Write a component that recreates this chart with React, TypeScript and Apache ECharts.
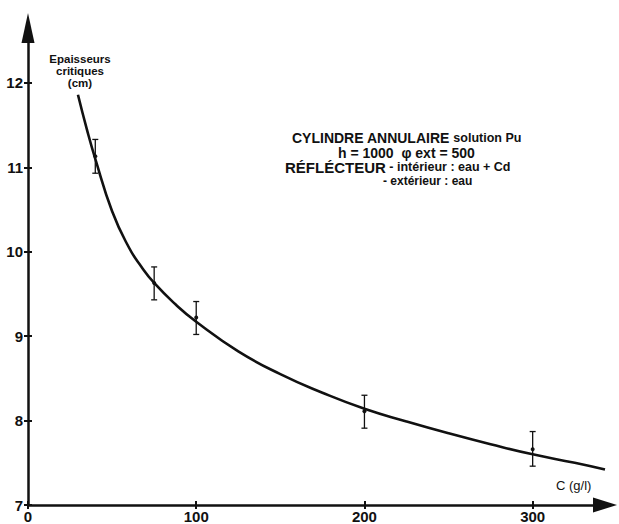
import React, { useEffect, useRef } from "react";
import * as echarts from "echarts";

// ---- data ----
const xTicks = [0, 100, 200, 300];
const yTicks = [7, 8, 9, 10, 11, 12];

// measured points (C in g/l, critical thickness in cm) with error bars
const pointC = [40, 75, 100, 200, 300];
const pointValue = [11.13, 9.63, 9.22, 8.11, 7.66];
const pointLow = [10.93, 9.43, 9.02, 7.91, 7.46];
const pointHigh = [11.33, 9.82, 9.41, 8.3, 7.87];

// fitted curve
const curveC = [29.7, 35, 40, 50, 60, 67.5, 75, 87.5, 100, 125, 150, 175, 200, 225, 250, 275, 300, 325, 343];
const curveValue = [11.86, 11.45, 11.1, 10.48, 10.05, 9.82, 9.63, 9.38, 9.17, 8.82, 8.55, 8.33, 8.14, 7.99, 7.85, 7.72, 7.6, 7.5, 7.42];

const titleLines = [
  ["CYLINDRE ANNULAIRE", " solution Pu"],
  ["h = 1000  \u03c6 ext = 500"],
  ["R\u00c9FL\u00c9CTEUR", " - int\u00e9rieur : eau + Cd"],
  ["- ext\u00e9rieur : eau"],
];
const yName = ["Epaisseurs", "critiques", "(cm)"];
const xName = "C (g/l)";

const FONT = '"Liberation Sans", Arial, sans-serif';
const INK = "#111";

export default function App() {
  const ref = useRef<HTMLDivElement>(null);
  useEffect(() => {
    if (!ref.current) return;
    const chart = echarts.init(ref.current, undefined, { renderer: "svg" });
    const X_MAX = 343;
    const Y_MIN = 7;
    const Y_MAX = 12.65;
    const baseX = {
      type: "value",
      position: "bottom",
      min: 0,
      max: X_MAX,
      interval: 100,
      splitLine: { show: false },
    };
    const baseY = {
      type: "value",
      position: "left",
      min: Y_MIN,
      max: Y_MAX,
      interval: 1,
      splitLine: { show: false },
    };
    const tickStyle = { color: INK, width: 2 };
    const labelStyle = {
      color: INK,
      fontFamily: FONT,
      fontWeight: "bold",
      fontSize: 15,
    };
    const option: any = {
      animation: false,
      grid: { left: 28, top: 28, width: 577, height: 478, containLabel: false },
      xAxis: [
        {
          ...baseX,
          axisLine: {
            show: true,
            onZero: false,
            symbol: ["none", "triangle"],
            symbolSize: [15, 24],
            lineStyle: { color: INK, width: 2.5 },
          },
          axisTick: { show: true, length: 4, inside: false, customValues: xTicks, lineStyle: tickStyle },
          axisLabel: {
            show: true,
            customValues: xTicks,
            margin: 4,
            ...labelStyle,
            formatter: (v: number) => (xTicks.includes(v) ? String(v) : ""),
          },
        },
        {
          ...baseX,
          axisLine: { show: false, onZero: false },
          axisTick: { show: true, length: 4, inside: true, customValues: xTicks, lineStyle: tickStyle },
          axisLabel: { show: false },
        },
      ],
      yAxis: [
        {
          ...baseY,
          axisLine: {
            show: true,
            onZero: false,
            symbol: ["none", "triangle"],
            symbolSize: [13, 30],
            lineStyle: { color: INK, width: 2.5 },
          },
          axisTick: { show: true, length: 4, inside: false, customValues: yTicks, lineStyle: tickStyle },
          axisLabel: {
            show: true,
            customValues: yTicks,
            margin: 5,
            ...labelStyle,
            formatter: (v: number) => (yTicks.includes(v) ? String(v) : ""),
          },
        },
        {
          ...baseY,
          axisLine: { show: false, onZero: false },
          axisTick: { show: true, length: 4, inside: true, customValues: yTicks, lineStyle: tickStyle },
          axisLabel: { show: false },
        },
      ],
      series: [
        {
          type: "line",
          xAxisIndex: 0,
          yAxisIndex: 0,
          data: curveC.map((c, i) => [c, curveValue[i]]),
          smooth: 0.5,
          showSymbol: false,
          lineStyle: { color: INK, width: 2.6 },
          z: 3,
        },
        {
          type: "custom",
          xAxisIndex: 0,
          yAxisIndex: 0,
          data: pointC.map((c, i) => [c, pointLow[i], pointHigh[i], pointValue[i]]),
          encode: { x: 0, y: [1, 2] },
          z: 4,
          renderItem: (params: any, api: any) => {
            const x = api.value(0);
            const top = api.coord([x, api.value(2)]);
            const bot = api.coord([x, api.value(1)]);
            const mid = api.coord([x, api.value(3)]);
            const hw = 3;
            const st = { stroke: INK, lineWidth: 1.3 };
            return {
              type: "group",
              children: [
                { type: "line", shape: { x1: top[0], y1: top[1], x2: bot[0], y2: bot[1] }, style: st },
                { type: "line", shape: { x1: top[0] - hw, y1: top[1], x2: top[0] + hw, y2: top[1] }, style: st },
                { type: "line", shape: { x1: bot[0] - hw, y1: bot[1], x2: bot[0] + hw, y2: bot[1] }, style: st },
                { type: "circle", shape: { cx: mid[0], cy: mid[1], r: 2 }, style: { fill: INK } },
              ],
            };
          },
        },
      ],
      graphic: [
        ...yName.map((t, i) => ({
          type: "text",
          x: 80,
          y: 59 + i * 12,
          style: {
            text: t,
            fill: INK,
            font: `bold 11.5px ${FONT}`,
            align: "center",
            verticalAlign: "middle",
          },
        })),
        {
          type: "text",
          x: 556,
          y: 485,
          style: {
            text: xName,
            fill: INK,
            font: `13px ${FONT}`,
            align: "left",
            verticalAlign: "middle",
          },
        },
        {
          type: "text",
          x: 292,
          y: 138,
          style: {
            text: `{b|${titleLines[0][0]}}{s|${titleLines[0][1]}}`,
            verticalAlign: "middle",
            rich: {
              b: { font: `bold 14px ${FONT}`, fill: INK },
              s: { font: `bold 12.5px ${FONT}`, fill: INK },
            },
          },
        },
        {
          type: "text",
          x: 338,
          y: 153,
          style: {
            text: titleLines[1][0],
            fill: INK,
            font: `bold 14px ${FONT}`,
            verticalAlign: "middle",
          },
        },
        {
          type: "text",
          x: 285,
          y: 167,
          style: {
            text: `{b|${titleLines[2][0]}}{s|${titleLines[2][1]}}`,
            verticalAlign: "middle",
            rich: {
              b: { font: `bold 15px ${FONT}`, fill: INK },
              s: { font: `bold 12.5px ${FONT}`, fill: INK },
            },
          },
        },
        {
          type: "text",
          x: 383,
          y: 181,
          style: {
            text: titleLines[3][0],
            fill: INK,
            font: `bold 12px ${FONT}`,
            verticalAlign: "middle",
          },
        },
      ],
    };
    chart.setOption(option);
    return () => chart.dispose();
  }, []);
  return (
    <div
      ref={ref}
      style={{ position: "absolute", left: 0, top: 0, width: 619, height: 524, background: "#fff" }}
    />
  );
}
